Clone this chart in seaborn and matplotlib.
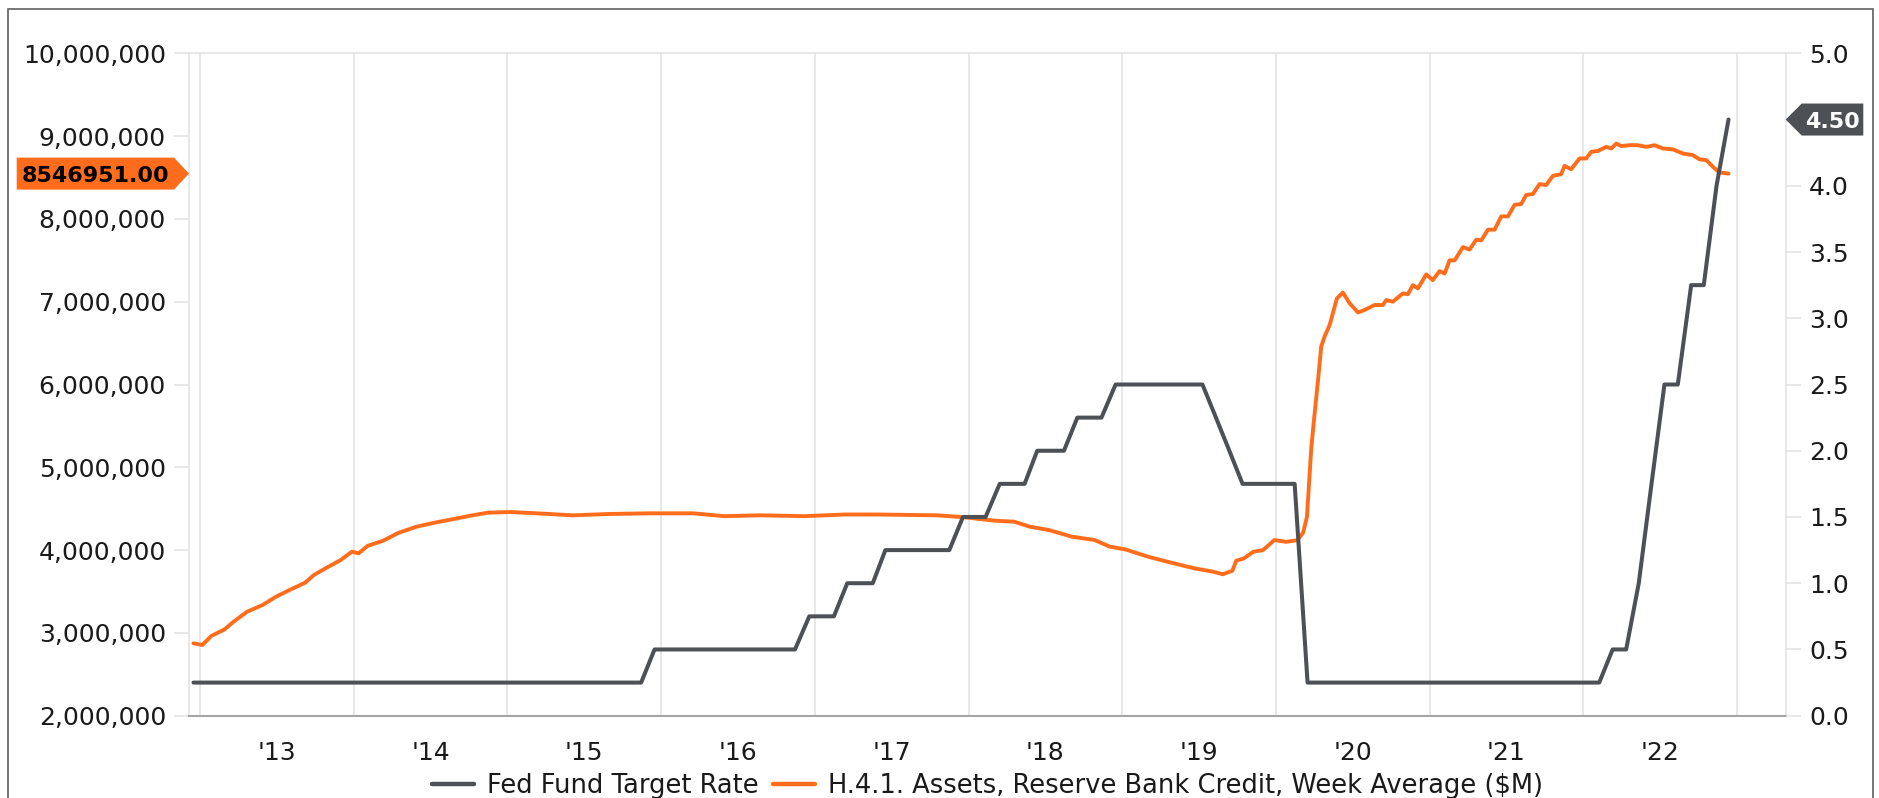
import matplotlib
matplotlib.use("Agg")
import matplotlib.pyplot as plt
import seaborn as sns
from matplotlib.patches import Polygon, Rectangle
from matplotlib.lines import Line2D
from matplotlib.transforms import IdentityTransform
import matplotlib.ticker as mticker

# ---------------- data ----------------
# Fed Fund Target Rate (%), vertices of the monthly series, x in decimal years
rate_year = [2012.957, 2015.870, 2015.957, 2016.871, 2016.964, 2017.124, 2017.211,
             2017.377, 2017.459, 2017.875, 2017.964, 2018.111, 2018.203, 2018.365,
             2018.447, 2018.621, 2018.708, 2018.865, 2018.957, 2019.522, 2019.610,
             2019.697, 2019.783, 2020.122, 2020.206, 2022.104, 2022.191, 2022.279,
             2022.361, 2022.444, 2022.528, 2022.615, 2022.702, 2022.784, 2022.867,
             2022.945]
rate_pct = [0.25, 0.25, 0.50, 0.50, 0.75, 0.75, 1.00,
            1.00, 1.25, 1.25, 1.50, 1.50, 1.75, 1.75,
            2.00, 2.00, 2.25, 2.25, 2.50, 2.50, 2.25,
            2.00, 1.75, 1.75, 0.25, 0.25, 0.50, 0.50,
            1.00, 1.75, 2.50, 2.50, 3.25, 3.25, 4.00,
            4.50]

# H.4.1. Assets, Reserve Bank Credit, Week Average ($M)
credit_year = [2012.957, 2013.015, 2013.073, 2013.160, 2013.218, 2013.306, 2013.407,
               2013.494, 2013.582, 2013.683, 2013.741, 2013.828, 2013.915, 2013.988,
               2014.032, 2014.089, 2014.191, 2014.293, 2014.409, 2014.525, 2014.641,
               2014.757, 2014.873, 2015.019, 2015.192, 2015.425, 2015.658, 2015.919,
               2016.209, 2016.412, 2016.645, 2016.935, 2017.196, 2017.400, 2017.800,
               2017.974, 2018.173, 2018.298, 2018.398, 2018.522, 2018.672, 2018.820,
               2018.920, 2019.019, 2019.169, 2019.319, 2019.468, 2019.593, 2019.654,
               2019.717, 2019.742, 2019.792, 2019.853, 2019.916, 2019.953, 2019.990,
               2020.066, 2020.140, 2020.177, 2020.202, 2020.230, 2020.252, 2020.274,
               2020.295, 2020.317, 2020.350, 2020.397, 2020.436, 2020.480, 2020.534,
               2020.577, 2020.642, 2020.696, 2020.718, 2020.761, 2020.826, 2020.859,
               2020.891, 2020.924, 2020.978, 2021.021, 2021.065, 2021.098, 2021.130,
               2021.163, 2021.217, 2021.260, 2021.304, 2021.336, 2021.380, 2021.423,
               2021.466, 2021.510, 2021.553, 2021.596, 2021.629, 2021.672, 2021.715,
               2021.759, 2021.802, 2021.856, 2021.878, 2021.921, 2021.976, 2022.019,
               2022.052, 2022.095, 2022.149, 2022.182, 2022.215, 2022.247, 2022.301,
               2022.355, 2022.410, 2022.464, 2022.518, 2022.583, 2022.648, 2022.713,
               2022.756, 2022.800, 2022.843, 2022.886, 2022.945]
credit_musd = [2874000, 2854000, 2963000, 3043000, 3135000, 3256000, 3337000,
               3437000, 3518000, 3606000, 3700000, 3792000, 3880000, 3981000,
               3961000, 4050000, 4113000, 4210000, 4283000, 4331000, 4372000,
               4415000, 4452000, 4460000, 4444000, 4420000, 4436000, 4444000,
               4444000, 4410000, 4420000, 4410000, 4430000, 4430000, 4420000,
               4396000, 4355000, 4343000, 4283000, 4243000, 4162000, 4122000,
               4041000, 4009000, 3920000, 3848000, 3780000, 3739000, 3708000,
               3751000, 3872000, 3900000, 3980000, 4000000, 4060000, 4122000,
               4100000, 4120000, 4210000, 4400000, 5230000, 5650000, 6050000,
               6460000, 6580000, 6720000, 7040000, 7110000, 6980000, 6870000,
               6900000, 6960000, 6960000, 7020000, 7000000, 7100000, 7090000,
               7200000, 7160000, 7330000, 7260000, 7370000, 7340000, 7500000,
               7500000, 7660000, 7630000, 7750000, 7740000, 7870000, 7870000,
               8030000, 8030000, 8170000, 8180000, 8290000, 8300000, 8420000,
               8410000, 8520000, 8540000, 8640000, 8600000, 8730000, 8730000,
               8810000, 8820000, 8870000, 8850000, 8910000, 8880000, 8890000,
               8890000, 8870000, 8890000, 8850000, 8840000, 8790000, 8770000,
               8720000, 8710000, 8630000, 8560000, 8546951]

year_ticks = [2013, 2014, 2015, 2016, 2017, 2018, 2019, 2020, 2021, 2022, 2023]
year_label_pos = [2013.5, 2014.5, 2015.5, 2016.5, 2017.5, 2018.5, 2019.5, 2020.5, 2021.5, 2022.5]
year_labels = ["'13", "'14", "'15", "'16", "'17", "'18", "'19", "'20", "'21", "'22"]
left_ticks = [2000000, 3000000, 4000000, 5000000, 6000000, 7000000, 8000000, 9000000, 10000000]
right_ticks = [0.0, 0.5, 1.0, 1.5, 2.0, 2.5, 3.0, 3.5, 4.0, 4.5, 5.0]

series_names = ["Fed Fund Target Rate",
                "H.4.1. Assets, Reserve Bank Credit, Week Average ($M)"]

# ---------------- style ----------------
sns.set_style("white")
plt.rcParams["font.family"] = ["DejaVu Sans"]

ORANGE = "#ff6d1c"
GRAY = "#4d5156"
LIGHT = "#e1e1e1"
TXT = "#1a1a1a"
FS = 18

W, H = 1879, 798
fig = plt.figure(figsize=(W / 100, H / 100), dpi=100)
L, R, T, B = 189, 1786, 53.3, 715.7
ax = fig.add_axes([L / W, 1 - B / H, (R - L) / W, (B - T) / H])
ax2 = ax.twinx()

sns.lineplot(x=credit_year, y=credit_musd, ax=ax, color=ORANGE, linewidth=2.8, legend=False)
sns.lineplot(x=rate_year, y=rate_pct, ax=ax2, color=GRAY, linewidth=2.9, legend=False)

ax.set_xlim(2012.928, 2023.319)
ax.set_ylim(2000000, 10000000)
ax2.set_ylim(0, 5)
for a in (ax, ax2):
    a.set_xlabel("")
    a.set_ylabel("")

last_rate = rate_pct[-1]
ax.set_yticks(left_ticks)
ax.yaxis.set_major_formatter(mticker.FuncFormatter(lambda v, p: f"{v:,.0f}"))
ax2.set_yticks(right_ticks)
# the tick label hidden behind the last-value flag is left blank
ax2.yaxis.set_major_formatter(
    mticker.FuncFormatter(lambda v, p: "" if abs(v - last_rate) < 0.2 else f"{v:.1f}"))
for a in (ax, ax2):
    a.tick_params(axis="y", length=10.8, width=1.1, color=LIGHT, pad=5.8,
                  labelsize=FS, labelcolor=TXT)

ax.set_xticks(year_ticks)
ax.set_xticklabels([""] * len(year_ticks))
ax.set_xticks(year_label_pos, minor=True)
ax.set_xticklabels(year_labels, minor=True)
ax.tick_params(axis="x", which="major", length=9.4, width=1.1, color=LIGHT)
ax.tick_params(axis="x", which="minor", length=0, pad=18, labelsize=FS, labelcolor=TXT)
ax.grid(axis="x", which="major", color=LIGHT, linewidth=1.1)
ax.grid(axis="y", visible=False)
ax2.grid(False)

for s in ("top", "left", "right"):
    ax.spines[s].set_color(LIGHT)
    ax.spines[s].set_linewidth(1.1)
ax.spines["bottom"].set_color("#a5a5a5")
ax.spines["bottom"].set_linewidth(1.5)
for s in ax2.spines.values():
    s.set_visible(False)

# legend
handles = [Line2D([], [], color=GRAY, linewidth=3.2),
           Line2D([], [], color=ORANGE, linewidth=3.2)]
fig.legend(handles, series_names, loc="center", bbox_to_anchor=((L + R) / 2 / W, 1 - 786 / H),
           ncol=2, frameon=False, fontsize=18.5, handlelength=1.65, handletextpad=0.5,
           columnspacing=0.55, labelcolor=TXT)

# outer frame
fig.add_artist(Rectangle((8 / W, -0.05), (1873 - 8) / W, 1 - 9 / H + 0.05,
                         transform=fig.transFigure, fill=False, edgecolor="#5f5f5f",
                         linewidth=1.2))

# last-value flags
ident = IdentityTransform()
yc = ax.transData.transform((2020.0, credit_musd[-1]))[1]
hh = 16
fig.add_artist(Polygon([(16.7, yc - hh), (174, yc - hh), (189, yc), (174, yc + hh), (16.7, yc + hh)],
                       closed=True, facecolor=ORANGE, edgecolor="none", transform=ident))
fig.text(95.3, yc, f"{credit_musd[-1]:.2f}", transform=ident, ha="center", va="center_baseline",
         fontsize=16, fontweight="bold", color="black")

yc2 = ax2.transData.transform((2020.0, last_rate))[1]
fig.add_artist(Polygon([(1785.7, yc2), (1801.7, yc2 + hh), (1863.3, yc2 + hh), (1863.3, yc2 - hh),
                        (1801.7, yc2 - hh)],
                       closed=True, facecolor=GRAY, edgecolor="none", transform=ident))
fig.text(1832.5, yc2, f"{last_rate:.2f}", transform=ident, ha="center", va="center_baseline",
         fontsize=16, fontweight="bold", color="white")

fig.savefig("out.png", dpi=100, facecolor="white")
